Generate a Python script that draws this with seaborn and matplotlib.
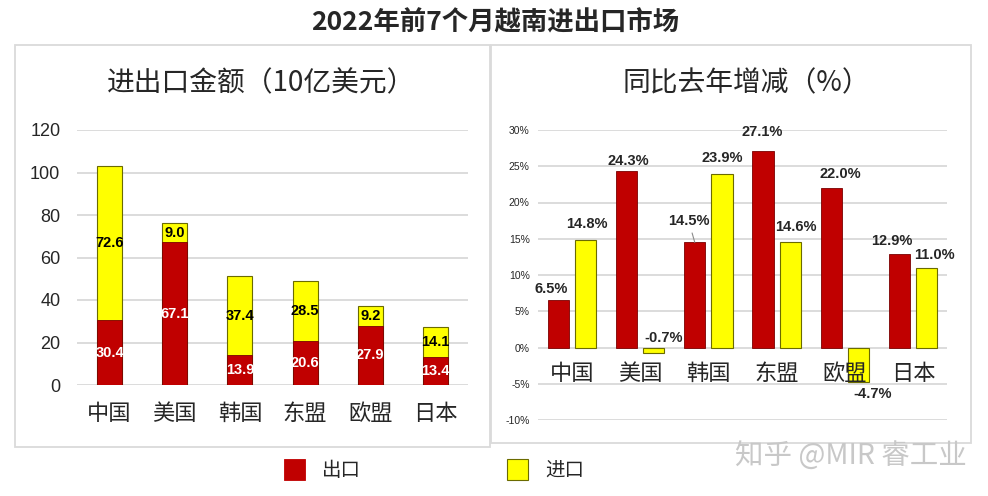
import matplotlib
matplotlib.use("Agg")
import matplotlib.pyplot as plt
from matplotlib.patches import Rectangle, Patch
import seaborn as sns
import pandas as pd

# ---------------- data ----------------
regions = ['中国', '美国', '韩国', '东盟', '欧盟', '日本']
export_value = [30.4, 67.1, 13.9, 20.6, 27.9, 13.4]      # 出口, 10亿美元
import_value = [72.6, 9.0, 37.4, 28.5, 9.2, 14.1]       # 进口, 10亿美元
export_growth = [6.5, 24.3, 14.5, 27.1, 22.0, 12.9]     # 出口同比 %
import_growth = [14.8, -0.7, 23.9, 14.6, -4.7, 11.0]    # 进口同比 %
left_yticks = [0, 20, 40, 60, 80, 100, 120]
right_yticks = [-10, -5, 0, 5, 10, 15, 20, 25, 30]

title = '2022年前7个月越南进出口市场'
left_title = '进出口金额（10亿美元）'
right_title = '同比去年增减（%）'
series_names = ['出口', '进口']
watermark = '知乎 @MIR 睿工业'

# ---------------- style ----------------
RED = '#c00000'
RED_EDGE = '#7a0000'
YELLOW = '#ffff00'
YELLOW_EDGE = '#6b6b00'
GRID = '#d9d9d9'
BORDER = '#dadada'

sns.set_theme(style='white')
CJK = ['Noto Sans CJK SC', 'DejaVu Sans']
NUM = ['Liberation Sans', 'Noto Sans CJK SC', 'DejaVu Sans']
plt.rcParams['font.family'] = NUM

W, H = 988, 496
fig = plt.figure(figsize=(W / 100, H / 100), dpi=100)
fig.patch.set_facecolor('white')


def fx(px):
    return px / W


def fy(py):
    return 1 - py / H


# panel borders
fig.add_artist(Rectangle((fx(15), fy(447)), fx(490) - fx(15), fy(45) - fy(447),
                         transform=fig.transFigure, fill=False, ec=BORDER, lw=1.3))
fig.add_artist(Rectangle((fx(491), fy(443)), fx(971) - fx(491), fy(45) - fy(443),
                         transform=fig.transFigure, fill=False, ec=BORDER, lw=1.3))

# titles
fig.text(fx(495), fy(23), title, ha='center', va='center', fontsize=19,
         fontweight='bold', family=CJK)
fig.text(fx(261), fy(83), left_title, ha='center', va='center', fontsize=20, family=CJK)
fig.text(fx(746), fy(83), right_title, ha='center', va='center', fontsize=20, family=CJK)

# ---------------- left: stacked bars ----------------
ax1 = fig.add_axes([fx(77), fy(385), fx(468) - fx(77), fy(130) - fy(385)])
totals = [e + i for e, i in zip(export_value, import_value)]
sns.barplot(x=regions, y=totals, color=YELLOW, saturation=1, width=0.385,
            edgecolor=YELLOW_EDGE, linewidth=0.8, ax=ax1)
sns.barplot(x=regions, y=export_value, color=RED, saturation=1, width=0.385,
            edgecolor=RED_EDGE, linewidth=0.6, ax=ax1)
ax1.set_ylim(0, 120)
ax1.set_yticks(left_yticks)
ax1.set_yticklabels([str(v) for v in left_yticks], fontsize=13, family=NUM)
ax1.set_xticks(range(len(regions)))
ax1.set_xticklabels(regions, fontsize=16, family=CJK)
ax1.tick_params(axis='y', length=0, pad=12)
ax1.tick_params(axis='x', length=0, pad=12)
ax1.yaxis.grid(True, color=GRID, lw=1.3)
ax1.set_axisbelow(True)
for s in ax1.spines.values():
    s.set_visible(False)
ax1.set_xlabel('')
ax1.set_ylabel('')
ax1.set_facecolor('none')

for i, (e, im) in enumerate(zip(export_value, import_value)):
    ax1.text(i, e / 2, f'{e:.1f}', ha='center', va='center', color='white',
             fontsize=10.5, fontweight='bold', family=NUM)
    ax1.text(i, e + im / 2, f'{im:.1f}', ha='center', va='center', color='black',
             fontsize=10.5, fontweight='bold', family=NUM)

# ---------------- right: grouped bars ----------------
ax2 = fig.add_axes([fx(538), fy(420), fx(947) - fx(538), fy(130) - fy(420)])
df = pd.DataFrame({
    'region': regions * 2,
    'growth': export_growth + import_growth,
    'type': [series_names[0]] * len(regions) + [series_names[1]] * len(regions),
})
sns.barplot(data=df, x='region', y='growth', hue='type', palette=[RED, YELLOW],
            saturation=1, width=0.8, gap=0.225, legend=False, ax=ax2)
for bar in ax2.containers[0]:
    bar.set_edgecolor(RED_EDGE)
    bar.set_linewidth(0.6)
for bar in ax2.containers[1]:
    bar.set_edgecolor(YELLOW_EDGE)
    bar.set_linewidth(0.8)

ax2.set_ylim(-10, 30)
ax2.set_xlim(-0.5, len(regions) - 0.5)
ax2.set_yticks(right_yticks)
ax2.set_yticklabels([f'{v}%' for v in right_yticks], fontsize=7.5, family=NUM)
ax2.set_xticks([])
ax2.tick_params(axis='y', length=0, pad=6)
ax2.yaxis.grid(True, color=GRID, lw=1.3)
ax2.set_axisbelow(True)
for s in ax2.spines.values():
    s.set_visible(False)
ax2.set_xlabel('')
ax2.set_ylabel('')
ax2.set_facecolor('none')

# category labels below zero line
for i, r in enumerate(regions):
    ax2.annotate(r, xy=(i, 0), xytext=(0, -26 * 0.72), textcoords='offset points',
                 ha='center', va='center', fontsize=16, family=CJK)

# value labels (pixel offsets from bar end)
exp_off = [(-7.5, 11), (2, 10), (-6, 21), (-1, 19.5), (9, 13.5), (-7, 12.5)]
imp_off = [(1.5, 16.7), (10, 9), (0, 16.7), (6, 15), (14, -12), (7.5, 13)]
leader = [False, False, True, False, False, False]
for bar, v, (dx, dy), ld in zip(ax2.containers[0], export_growth, exp_off, leader):
    cx = bar.get_x() + bar.get_width() / 2
    kw = {}
    if ld:
        kw['arrowprops'] = dict(arrowstyle='-', color='#8c8c8c', lw=0.8,
                                shrinkA=1, shrinkB=0)
    ax2.annotate(f'{v:.1f}%', xy=(cx, v), xytext=(dx * 0.72, dy * 0.72),
                 textcoords='offset points', ha='center', va='center',
                 fontsize=10.5, fontweight='bold', family=NUM, **kw)
for bar, v, (dx, dy) in zip(ax2.containers[1], import_growth, imp_off):
    cx = bar.get_x() + bar.get_width() / 2
    base = 0 if v < 0 and dy > 0 else v
    ax2.annotate(f'{v:.1f}%', xy=(cx, base), xytext=(dx * 0.72, dy * 0.72),
                 textcoords='offset points', ha='center', va='center',
                 fontsize=10.5, fontweight='bold', family=NUM)

# ---------------- legend ----------------
handles = [Patch(facecolor=RED, edgecolor=RED, lw=0.6),
           Patch(facecolor=YELLOW, edgecolor=YELLOW_EDGE, lw=0.8)]
leg = fig.legend(handles, series_names, loc='center', bbox_to_anchor=(fx(434), fy(470)),
                 ncol=2, frameon=False, prop={'family': CJK, 'size': 14},
                 handlelength=1.08, handleheight=1.28, handletextpad=0.9,
                 columnspacing=7.5)

# watermark
fig.text(fx(851), fy(457), watermark, ha='center', va='center', fontsize=20.5,
         color='#c8c8c8', family=CJK)

fig.savefig('out.png', dpi=100, facecolor='white')
